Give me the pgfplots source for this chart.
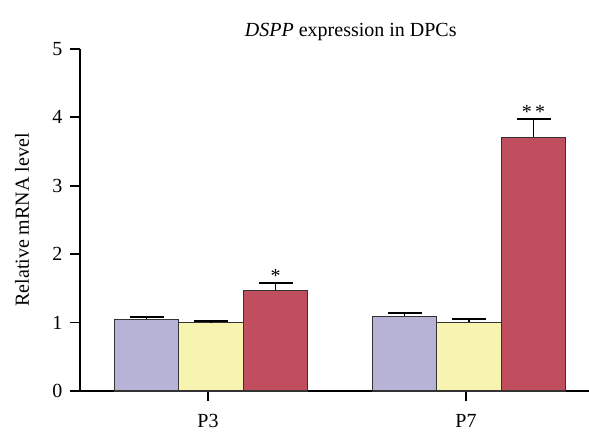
\documentclass[border=0pt]{standalone}
\usepackage{pgfplots}
\pgfplotsset{compat=1.18}
\usepackage{fontspec}
\setmainfont{Liberation Serif}
\definecolor{cpur}{RGB}{183,179,214}
\definecolor{cyel}{RGB}{247,244,178}
\definecolor{cred}{RGB}{192,78,94}
\begin{document}
\begin{tikzpicture}
\begin{axis}[
  scale only axis, width=509pt, height=342pt,
  xmin=-0.508, xmax=1.465, ymin=0, ymax=5,
  axis lines*=left,
  axis line style={line width=1.8pt, black},
  ytick={0,1,2,3,4,5},
  xtick={-0.012,0.988}, xticklabels={P3,P7},
  tick align=outside, major tick length=10pt,
  tick style={line width=1.8pt, black},
  /pgf/number format/assume math mode=true,
  tick label style={font=\fontsize{20}{24}\selectfont},
  yticklabel style={xshift=-4pt},
  xticklabel style={yshift=-10pt},
  ylabel={Relative mRNA level},
  ylabel style={font=\fontsize{20}{24}\selectfont, at={(axis description cs:-0.114,0.5)}, anchor=center},
  title={\textit{DSPP} expression in DPCs},
  title style={font=\fontsize{20}{24}\selectfont, at={(axis description cs:0.532,1)}, anchor=center, yshift=11pt},
  ybar=0pt, bar width=0.25,
  clip=false,
]
\addplot+[bar shift=-0.25, fill=cpur, draw=black!80, line width=1.3pt,
  error bars/.cd, y dir=plus, y explicit,
  error bar style={line width=1.8pt, black},
  error mark options={rotate=90, mark size=17pt, line width=1.8pt, black}]
  coordinates {(0,1.05) +- (0,0.033) (1,1.094) +- (0,0.048)};
\addplot+[bar shift=0, fill=cyel, draw=black!80, line width=1.3pt,
  error bars/.cd, y dir=plus, y explicit,
  error bar style={line width=1.8pt, black},
  error mark options={rotate=90, mark size=17pt, line width=1.8pt, black}]
  coordinates {(0,1.00) +- (0,0.02) (1,1.006) +- (0,0.048)};
\addplot+[bar shift=0.25, fill=cred, draw=black!80, line width=1.3pt,
  error bars/.cd, y dir=plus, y explicit,
  error bar style={line width=1.8pt, black},
  error mark options={rotate=90, mark size=17pt, line width=1.8pt, black}]
  coordinates {(0,1.47) +- (0,0.11) (1,3.71) +- (0,0.27)};
\node[font=\fontsize{20}{24}\selectfont, anchor=base, inner sep=0pt] at (axis cs:0.25,1.585) {*};
\node[font=\fontsize{20}{24}\selectfont, anchor=base, inner sep=0pt] at (axis cs:1.25,3.985) {*\,*};
\end{axis}
\pgfresetboundingbox
\path ([shift={(-80pt,-41pt)}]current axis.south west) rectangle ([shift={(0pt,49pt)}]current axis.north east);
\end{tikzpicture}
\end{document}
